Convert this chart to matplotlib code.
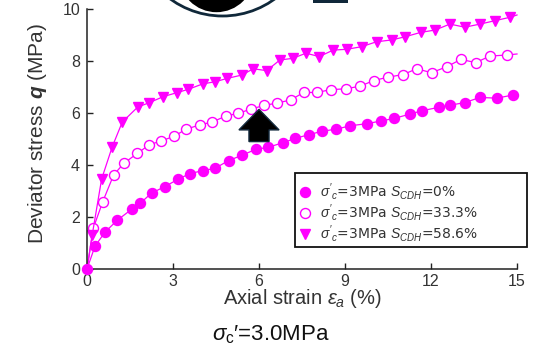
import matplotlib
matplotlib.use("Agg")
import matplotlib.pyplot as plt
from matplotlib.lines import Line2D
from matplotlib.patches import Polygon, Circle, Rectangle

plt.rcParams['font.family'] = ['Liberation Sans', 'DejaVu Sans']
plt.rcParams['mathtext.fontset'] = 'custom'
plt.rcParams['mathtext.rm'] = 'Liberation Sans'
plt.rcParams['mathtext.it'] = 'Liberation Sans:italic'
plt.rcParams['mathtext.bf'] = 'Liberation Sans:bold:italic'

# ---- data ----
strain_s0 = [0.0, 0.28, 0.63, 1.05, 1.56, 1.85, 2.25, 2.72, 3.17, 3.59, 4.03, 4.46,
             4.94, 5.42, 5.88, 6.31, 6.85, 7.25, 7.75, 8.21, 8.70, 9.19, 9.77, 10.24,
             10.71, 11.27, 11.70, 12.28, 12.66, 13.18, 13.71, 14.29, 14.85]
q_s0 = [0.0, 0.88, 1.42, 1.87, 2.30, 2.52, 2.92, 3.17, 3.45, 3.67, 3.78, 3.87,
        4.17, 4.38, 4.60, 4.68, 4.86, 5.02, 5.17, 5.30, 5.38, 5.51, 5.59, 5.69,
        5.79, 5.96, 6.09, 6.22, 6.30, 6.40, 6.60, 6.57, 6.69]

strain_s33 = [0.0, 0.22, 0.55, 0.93, 1.29, 1.76, 2.16, 2.57, 3.03, 3.46, 3.93, 4.36,
              4.84, 5.28, 5.72, 6.17, 6.62, 7.10, 7.56, 8.02, 8.51, 9.02, 9.52, 10.01,
              10.51, 11.03, 11.50, 12.02, 12.55, 13.04, 13.56, 14.06, 14.64, 15.0]
q_s33 = [0.0, 1.57, 2.59, 3.62, 4.07, 4.45, 4.77, 4.92, 5.10, 5.38, 5.54, 5.65,
         5.88, 5.99, 6.15, 6.29, 6.38, 6.50, 6.79, 6.79, 6.90, 6.93, 7.03, 7.25,
         7.38, 7.48, 7.70, 7.55, 7.78, 8.06, 7.94, 8.19, 8.23, 8.27]

strain_s58 = [0.0, 0.18, 0.51, 0.88, 1.23, 1.77, 2.18, 2.66, 3.13, 3.53, 4.04, 4.46,
              4.89, 5.40, 5.80, 6.27, 6.73, 7.17, 7.64, 8.10, 8.59, 9.06, 9.58, 10.10,
              10.63, 11.09, 11.64, 12.14, 12.66, 13.18, 13.71, 14.23, 14.75, 15.0]
q_s58 = [0.0, 1.30, 3.46, 4.70, 5.65, 6.23, 6.40, 6.63, 6.78, 6.91, 7.12, 7.20,
         7.33, 7.46, 7.70, 7.63, 8.04, 8.10, 8.30, 8.17, 8.42, 8.45, 8.55, 8.74,
         8.81, 8.93, 9.10, 9.19, 9.42, 9.30, 9.42, 9.55, 9.68, 9.77]

labels = [r"$\sigma'_{c}$=3MPa $S_{CDH}$=0%",
          r"$\sigma'_{c}$=3MPa $S_{CDH}$=33.3%",
          r"$\sigma'_{c}$=3MPa $S_{CDH}$=58.6%"]
xticks = [0, 3, 6, 9, 12, 15]
yticks = [0, 2, 4, 6, 8, 10]

MAG = '#ff00ff'
W, H = 541, 356

fig = plt.figure(figsize=(W / 100, H / 100), dpi=100)
L, R, B, T = 87, 517, 269, 9
ax = fig.add_axes([L / W, 1 - B / H, (R - L) / W, (B - T) / H])

ax.plot(strain_s0, q_s0, '-', color=MAG, lw=0.9, marker='o', ms=7.2,
        mfc=MAG, mec=MAG, clip_on=False, zorder=3)
ax.plot(strain_s33, q_s33, '-', color=MAG, lw=0.9, marker='o', ms=7.2,
        mfc='white', mec=MAG, mew=1.0, markevery=slice(1, len(strain_s33) - 1),
        clip_on=False, zorder=2)
ax.plot(strain_s58, q_s58, '-', color=MAG, lw=0.9, marker='v', ms=7.0,
        mfc=MAG, mec=MAG, markevery=slice(1, len(strain_s58) - 1),
        clip_on=False, zorder=2)

ax.set_xlim(0, 15)
ax.set_ylim(0, 10)
ax.set_xticks(xticks)
ax.set_yticks(yticks)
ax.spines['top'].set_visible(False)
ax.spines['right'].set_visible(False)
for s in ('left', 'bottom'):
    ax.spines[s].set_linewidth(1.1)
    ax.spines[s].set_color('#222222')
ax.tick_params(direction='in', length=4, width=1.0, colors='#222222',
               labelsize=11.5, labelcolor='#333333')
ax.tick_params(axis='x', pad=3.5)
ax.tick_params(axis='y', pad=5)
ax.patch.set_alpha(0)

ax.set_ylabel(r"Deviator stress $\mathbf{q}$ (MPa)", fontsize=15, color='#333333')
ax.yaxis.set_label_coords(-0.088, 0.52)
ax.set_xlabel(r"Axial strain $\varepsilon_{a}$ (%)", fontsize=14.5, color='#333333',
              labelpad=-1)

# arrow annotation
arrow = Polygon([(6.0, 6.14), (5.30, 5.35), (5.65, 5.35), (5.65, 4.90),
                 (6.35, 4.90), (6.35, 5.35), (6.70, 5.35)], closed=True,
                facecolor='black', edgecolor='#13293d', lw=1.0, zorder=5)
ax.add_patch(arrow)

handles = [Line2D([], [], ls='none', marker='o', ms=7.2, mfc=MAG, mec=MAG),
           Line2D([], [], ls='none', marker='o', ms=7.2, mfc='white', mec=MAG, mew=1.0),
           Line2D([], [], ls='none', marker='v', ms=6.5, mfc=MAG, mec=MAG)]
leg = fig.legend(handles, labels, loc='upper left',
                 bbox_to_anchor=(298 / W, 1 - 181 / H),
                 prop={'family': 'DejaVu Sans', 'size': 10}, frameon=False,
                 handlelength=1.05, handletextpad=0.55, labelspacing=0.0,
                 borderpad=0, borderaxespad=0)
for t in leg.get_texts():
    t.set_color('#333333')

# decorative overlay in pixel coordinates (legend frame, clipped icons at the top)
ov = fig.add_axes([0, 0, 1, 1], zorder=10)
ov.set_xlim(0, W)
ov.set_ylim(H, 0)
ov.axis('off')
ov.patch.set_alpha(0)
ov.add_patch(Rectangle((295, 173), 232, 74, facecolor='none', edgecolor='#111111', lw=1.3))
ov.add_patch(Circle((216.5, -25.5), 37.7, facecolor='black', edgecolor='none'))
ov.add_patch(Circle((222.5, -72.6), 88.6, facecolor='none', edgecolor='#10283a', lw=2.0))
ov.add_patch(Rectangle((313, -5), 35, 8, facecolor='#10283a', edgecolor='none'))

fig.text(0.5, 1 - 335 / H, r"$\sigma_{\rm c}$′=3.0MPa", ha='center', va='center',
         fontsize=16, color='#111111')

fig.savefig('out.png', dpi=100)
